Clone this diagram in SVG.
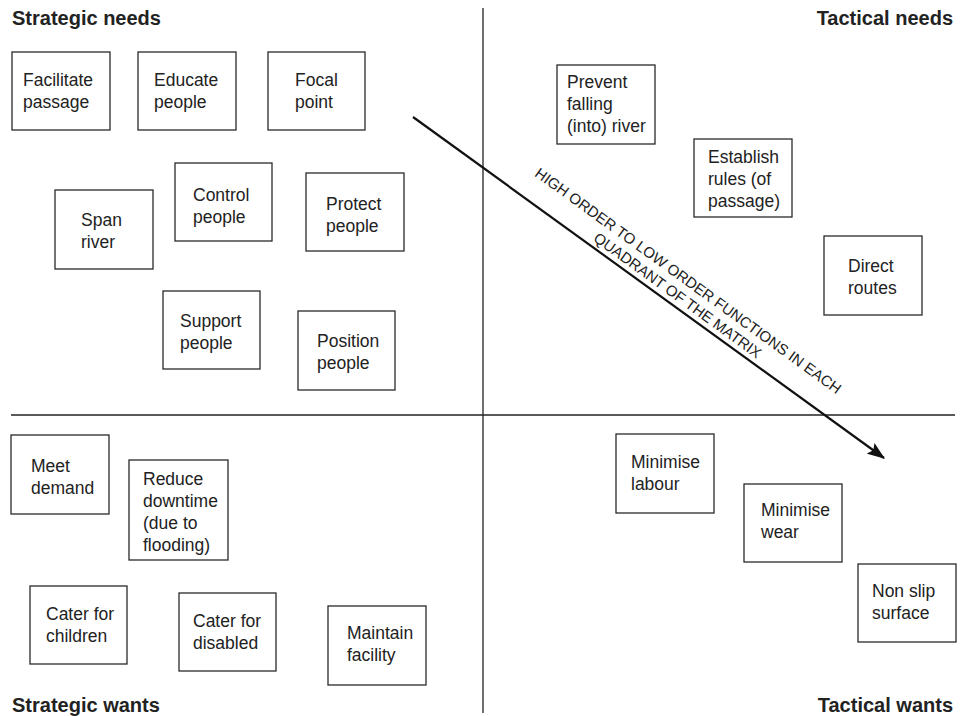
<svg xmlns="http://www.w3.org/2000/svg" width="960" height="716" viewBox="0 0 960 716">
<defs>
<style>
.box{fill:#fff;stroke:#2a2a2a;stroke-width:1.3}
.t{font-family:"Liberation Sans",Arial,sans-serif;font-size:17.5px;fill:#222}
.title{font-family:"Liberation Sans",Arial,sans-serif;font-size:20px;font-weight:bold;fill:#222}
.axis{stroke:#222;stroke-width:1.3;fill:none}
.diag{font-family:"Liberation Sans",Arial,sans-serif;font-size:15px;fill:#222}
</style>
<marker id="ah" markerWidth="8" markerHeight="6" refX="7.5" refY="3" orient="auto" markerUnits="strokeWidth">
<path d="M0,0 L8,3 L0,6 L1.5,3 Z" fill="#111"/>
</marker>
</defs>
<rect width="960" height="716" fill="#fff"/>

<g id="axes">
<line class="axis" x1="483" y1="8" x2="483" y2="713"/>
<line class="axis" x1="11" y1="415" x2="955" y2="415"/>
</g>

<g id="titles">
<text class="title" x="12" y="25">Strategic needs</text>
<text class="title" x="953" y="25" text-anchor="end">Tactical needs</text>
<text class="title" x="12" y="712">Strategic wants</text>
<text class="title" x="953" y="712" text-anchor="end">Tactical wants</text>
</g>

<g id="n1"><rect class="box" x="12" y="52" width="98" height="78"/><text class="t" x="23" y="86">Facilitate<tspan x="23" dy="22">passage</tspan></text></g>
<g id="n2"><rect class="box" x="138" y="52" width="98" height="78"/><text class="t" x="154" y="86">Educate<tspan x="154" dy="22">people</tspan></text></g>
<g id="n3"><rect class="box" x="268" y="52" width="97" height="78"/><text class="t" x="295" y="86">Focal<tspan x="295" dy="22">point</tspan></text></g>
<g id="n4"><rect class="box" x="55" y="190" width="98" height="79"/><text class="t" x="81" y="226">Span<tspan x="81" dy="22">river</tspan></text></g>
<g id="n5"><rect class="box" x="175" y="163" width="97" height="78"/><text class="t" x="193" y="201">Control<tspan x="193" dy="22">people</tspan></text></g>
<g id="n6"><rect class="box" x="306" y="173" width="98" height="78"/><text class="t" x="326" y="210">Protect<tspan x="326" dy="22">people</tspan></text></g>
<g id="n7"><rect class="box" x="163" y="291" width="97" height="78"/><text class="t" x="180" y="327">Support<tspan x="180" dy="22">people</tspan></text></g>
<g id="n8"><rect class="box" x="298" y="311" width="97" height="79"/><text class="t" x="317" y="347">Position<tspan x="317" dy="22">people</tspan></text></g>

<g id="n9"><rect class="box" x="557" y="65" width="98" height="79"/><text class="t" x="567" y="88">Prevent<tspan x="567" dy="22">falling</tspan><tspan x="567" dy="22">(into) river</tspan></text></g>
<g id="n10"><rect class="box" x="694" y="139" width="98" height="78"/><text class="t" x="708" y="163">Establish<tspan x="708" dy="22">rules (of</tspan><tspan x="708" dy="22">passage)</tspan></text></g>
<g id="n11"><rect class="box" x="824" y="236" width="98" height="79"/><text class="t" x="848" y="272">Direct<tspan x="848" dy="22">routes</tspan></text></g>

<g id="n12"><rect class="box" x="11" y="435" width="98" height="79"/><text class="t" x="31" y="472">Meet<tspan x="31" dy="22">demand</tspan></text></g>
<g id="n13"><rect class="box" x="129" y="460" width="99" height="100"/><text class="t" x="143" y="485">Reduce<tspan x="143" dy="22">downtime</tspan><tspan x="143" dy="22">(due to</tspan><tspan x="143" dy="22">flooding)</tspan></text></g>
<g id="n14"><rect class="box" x="30" y="586" width="97" height="78"/><text class="t" x="46" y="620">Cater for<tspan x="46" dy="22">children</tspan></text></g>
<g id="n15"><rect class="box" x="179" y="593" width="97" height="78"/><text class="t" x="193" y="627">Cater for<tspan x="193" dy="22">disabled</tspan></text></g>
<g id="n16"><rect class="box" x="328" y="606" width="98" height="79"/><text class="t" x="347" y="639">Maintain<tspan x="347" dy="22">facility</tspan></text></g>

<g id="n17"><rect class="box" x="616" y="434" width="98" height="79"/><text class="t" x="631" y="468">Minimise<tspan x="631" dy="22">labour</tspan></text></g>
<g id="n18"><rect class="box" x="744" y="484" width="98" height="78"/><text class="t" x="761" y="516">Minimise<tspan x="761" dy="22">wear</tspan></text></g>
<g id="n19"><rect class="box" x="858" y="564" width="98" height="78"/><text class="t" x="872" y="597">Non slip<tspan x="872" dy="22">surface</tspan></text></g>

<g id="connectors">
<line x1="413" y1="117" x2="884" y2="458" stroke="#111" stroke-width="2.2" marker-end="url(#ah)"/>
<g transform="translate(671.4,304) rotate(35.9)">
<text class="diag" x="0" y="-23.5" text-anchor="middle">HIGH ORDER TO LOW ORDER FUNCTIONS IN EACH</text>
<text class="diag" x="0" y="-5.5" text-anchor="middle">QUADRANT OF THE MATRIX</text>
</g>
</g>
</svg>
